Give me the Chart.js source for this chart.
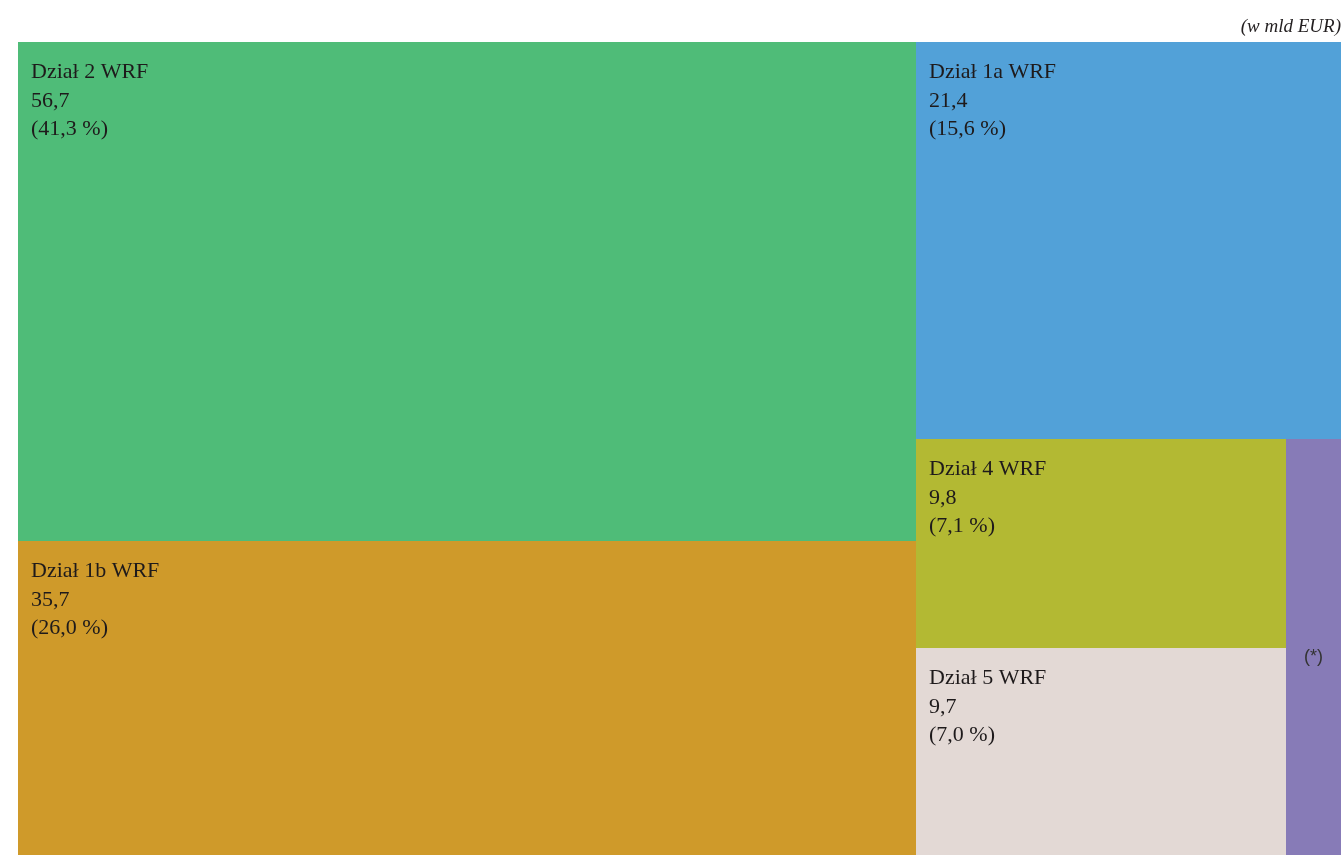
<!DOCTYPE html>
<html lang="pl">
<head>
<meta charset="utf-8">
<title>WRF</title>
<script src="https://cdn.jsdelivr.net/npm/chart.js@4.4.1/dist/chart.umd.min.js"></script>
<style>
  html, body { margin: 0; padding: 0; background: #ffffff; }
  #wrap { width: 1344px; height: 855px; }
</style>
</head>
<body>
<div id="wrap"><canvas id="mapaWRF"></canvas></div>
<script>
// działy WRF, kwoty w mld EUR
const categories = ['Dział 2 WRF', 'Dział 1b WRF', 'Dział 1a WRF', 'Dział 4 WRF', 'Dział 5 WRF', '(*)'];
const values = [56.7, 35.7, 21.4, 9.8, 9.7, 2.9];
const shares = ['41,3 %', '26,0 %', '15,6 %', '7,1 %', '7,0 %', null];
const colors = ['#4fbc78', '#cf9a2a', '#52a1d8', '#b3b933', '#e3d9d5', '#877bb7'];
// kolejnosc zagniezdzenia kafelkow (indeksy kategorii)
const groups = [[0, 1], [2, [[3, 4], 5]]];

function sumNode(n) {
    return typeof n === 'number' ? values[n] : n.reduce((s, c) => s + sumNode(c), 0);
}

// podzial prostokata (w jednostkach 0..1) na przemian w poziomie i w pionie
function layout(node, x0, y0, x1, y1, horiz, out) {
    if (typeof node === 'number') {
        out[node] = { x0, y0, x1, y1 };
        return out;
    }
    const total = sumNode(node);
    let pos = horiz ? x0 : y0;
    node.forEach(child => {
        const f = sumNode(child) / total;
        if (horiz) {
            const w = (x1 - x0) * f;
            layout(child, pos, y0, pos + w, y1, !horiz, out);
            pos += w;
        } else {
            const h = (y1 - y0) * f;
            layout(child, x0, pos, x1, pos + h, !horiz, out);
            pos += h;
        }
    });
    return out;
}

const cells = layout(groups, 0, 0, 1, 1, true, []);

const treemapPlugin = {
    id: 'treemap',
    afterDatasetsDraw(chart) {
        const ctx = chart.ctx;
        const xs = chart.scales.x;
        const ys = chart.scales.y;
        ctx.save();
        cells.forEach((c, i) => {
            const left = Math.round(xs.getPixelForValue(c.x0));
            const right = Math.round(xs.getPixelForValue(c.x1));
            const top = Math.round(ys.getPixelForValue(c.y0));
            const bottom = Math.round(ys.getPixelForValue(c.y1));
            ctx.fillStyle = colors[i];
            ctx.fillRect(left, top, right - left, bottom - top);

            if (shares[i]) {
                ctx.fillStyle = '#1e1a1b';
                ctx.font = '22px "Liberation Serif", serif';
                ctx.textAlign = 'left';
                ctx.textBaseline = 'alphabetic';
                const lines = [categories[i], values[i].toFixed(1).replace('.', ','), '(' + shares[i] + ')'];
                lines.forEach((t, k) => ctx.fillText(t, left + 13, top + 36 + k * 28.5));
            } else {
                ctx.fillStyle = '#333333';
                ctx.font = '18px "Liberation Sans", sans-serif';
                ctx.textAlign = 'center';
                ctx.textBaseline = 'middle';
                ctx.fillText(categories[i], (left + right) / 2, (top + bottom) / 2 + 10);
            }
        });
        ctx.restore();
    }
};

new Chart(document.getElementById('mapaWRF').getContext('2d'), {
    type: 'scatter',
    data: {
        datasets: [{
            label: 'WRF',
            data: cells.map((c, i) => ({ x: (c.x0 + c.x1) / 2, y: (c.y0 + c.y1) / 2, v: values[i] })),
            pointRadius: 0,
            pointHoverRadius: 0
        }]
    },
    options: {
        responsive: true,
        maintainAspectRatio: false,
        animation: false,
        layout: {
            padding: { left: 18, right: 3, top: 0, bottom: 0 }
        },
        plugins: {
            legend: { display: false },
            tooltip: { enabled: false },
            title: {
                display: true,
                text: '(w mld EUR)',
                align: 'end',
                color: '#231f20',
                font: { family: '"Liberation Serif", serif', size: 19, style: 'italic', weight: 'normal' },
                padding: { top: 16, bottom: 3.2 }
            }
        },
        scales: {
            x: { type: 'linear', min: 0, max: 1, display: false },
            y: { type: 'linear', min: 0, max: 1, reverse: true, display: false }
        }
    },
    plugins: [treemapPlugin]
});
</script>
</body>
</html>
